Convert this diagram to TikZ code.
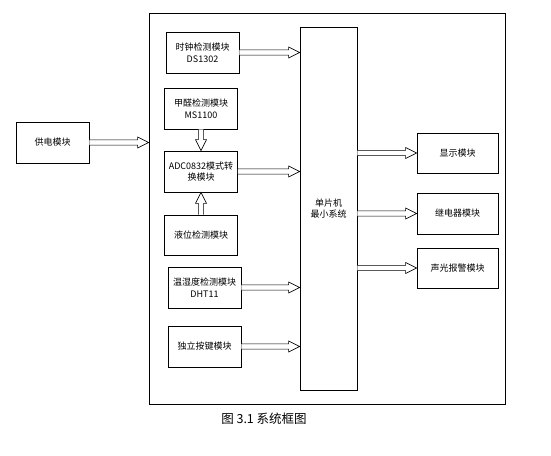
\documentclass[tikz,border=0pt]{standalone}
\usepackage{fontspec}
\newfontfamily\cjk{Noto Sans CJK SC}
\usetikzlibrary{positioning,calc}

\tikzset{
  hollow/.style={draw,fill=white,line width=0.6pt,line join=miter,to path={
    let \p1=(\tikztostart), \p2=(\tikztotarget),
        \n1={atan2(\y2-\y1,\x2-\x1)}, \n2={veclen(\x2-\x1,\y2-\y1)} in
    ($(\p1)+({\n1+90}:2.6pt)$)
    -- ($(\p1)+(\n1:{\n2-11pt})+({\n1+90}:2.6pt)$)
    -- ($(\p1)+(\n1:{\n2-11pt})+({\n1+90}:5.5pt)$)
    -- (\p2)
    -- ($(\p1)+(\n1:{\n2-11pt})+({\n1-90}:5.5pt)$)
    -- ($(\p1)+(\n1:{\n2-11pt})+({\n1-90}:2.6pt)$)
    -- ($(\p1)+({\n1-90}:2.6pt)$)
  }}
}

\begin{document}
\begin{tikzpicture}[
  x=1pt,y=-1pt,
  every node/.style={font=\cjk\fontsize{9}{11.5}\selectfont},
  block/.style={draw,line width=0.7pt,align=center,minimum width=73pt,minimum height=41pt,inner sep=1pt},
  outblock/.style={block,minimum width=81pt}
]
  \useasboundingbox (0,0) rectangle (551,455);
  % outer frame and MCU
  \node[draw,line width=0.8pt,minimum width=356pt,minimum height=391pt,inner sep=0pt] (frame) at (327,208.5) {};
  \node[block,minimum width=57pt,minimum height=363pt] (mcu) at (328.5,208.5) {单片机\\最小系统};
  % power supply
  \node[block] (power) at (52.5,142.5) {供电模块};
  % input modules
  \node[block] (clock) at (202.5,52.5) {时钟检测模块\\DS1302};
  \node[block] (hcho) at (201,108.5) {甲醛检测模块\\MS1100};
  \node[block] (adc) at (201,171.5) {ADC0832模式转\\换模块};
  \node[block,minimum height=40pt] (level) at (201,235) {液位检测模块};
  \node[block] (dht) at (204.5,287.5) {温湿度检测模块\\DHT11};
  \node[block] (key) at (204.5,346.5) {独立按键模块};
  % output modules
  \node[outblock,minimum height=40pt] (disp) at (457.5,153) {显示模块};
  \node[outblock] (relay) at (457.5,213.5) {继电器模块};
  \node[outblock,minimum height=40pt] (alarm) at (457.5,268) {声光报警模块};
  % caption
  \node[font=\cjk\fontsize{12.5}{14}\selectfont] (cap) at (264,419) {图 3.1 系统框图};

  \draw[hollow] (power.east) to (power.east -| frame.west);
  \draw[hollow] (clock.east) to (clock.east -| mcu.west);
  \draw[hollow] (hcho.south) to (adc.north);
  \draw[hollow] (level.north) to (adc.south);
  \draw[hollow] (adc.east) to (adc.east -| mcu.west);
  \draw[hollow] (dht.east) to (dht.east -| mcu.west);
  \draw[hollow] (key.east) to (key.east -| mcu.west);
  \draw[hollow] (disp.west -| mcu.east) to (disp.west);
  \draw[hollow] (relay.west -| mcu.east) to (relay.west);
  \draw[hollow] (alarm.west -| mcu.east) to (alarm.west);
\end{tikzpicture}
\end{document}
